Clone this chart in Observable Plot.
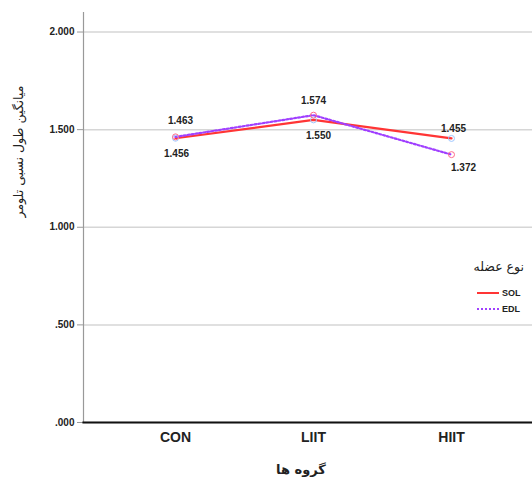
<!DOCTYPE html>
<html>
<head>
<meta charset="utf-8">
<script src="https://cdn.jsdelivr.net/npm/d3@7"></script>
<script src="https://cdn.jsdelivr.net/npm/@observablehq/plot@0.6"></script>
<style>
  body { margin: 0; background: #fff; }
  #wrap { position: relative; width: 532px; height: 486px; font-family: "Liberation Sans", Arial, sans-serif; }
  #legend { position: absolute; left: 440px; top: 259px; width: 84px; color: #222; }
  #legend .title { font-family: "DejaVu Sans", sans-serif; font-size: 12.5px; text-align: right; direction: rtl; height: 26px; }
  #legend .row { display: flex; align-items: center; justify-content: flex-end; font-size: 9px; font-weight: bold; height: 16px; }
  #legend svg { margin-right: 2px; }
</style>
</head>
<body>
<div id="wrap"></div>
<script>
const groups = ["CON", "LIIT", "HIIT"];
const seriesNames = ["SOL", "EDL"];
const solValues = [1.456, 1.550, 1.455];
const edlValues = [1.463, 1.574, 1.372];
const yTicks = [0, 0.5, 1, 1.5, 2];
const yTitle = "میانگین طول نسبی تلومر";
const xTitle = "گروه ها";
const legendTitle = "نوع عضله";

const colors = {SOL: "#ff3535", EDL: "#a040ff"};
const data = [];
groups.forEach((g, i) => {
  data.push({group: g, series: "SOL", value: solValues[i]});
  data.push({group: g, series: "EDL", value: edlValues[i]});
});
// label offsets (layout only)
const off = {
  "CON|EDL": [5, -16], "CON|SOL": [1, 16],
  "LIIT|EDL": [0, -14], "LIIT|SOL": [5, 16],
  "HIIT|SOL": [2, -10], "HIIT|EDL": [12, 13]
};
const fmt = d => d3.format(".3f")(d).replace(/^0\./, ".");

const labelMarks = data.map(d => Plot.text([d], {
  x: "group", y: "value", text: d => d3.format(".3f")(d.value),
  dx: off[d.group + "|" + d.series][0], dy: off[d.group + "|" + d.series][1],
  fontSize: 10, fontWeight: "bold", fill: "#222"
}));

const chart = Plot.plot({
  width: 532, height: 486,
  marginLeft: 83, marginRight: 0, marginTop: 12, marginBottom: 64,
  style: {fontFamily: "Liberation Sans, Arial, sans-serif", color: "#222", background: "#fff"},
  x: {type: "point", domain: groups, range: [175, 451], padding: 0},
  y: {domain: [0, 2.1], ticks: yTicks},
  marks: [
    Plot.gridY(yTicks, {stroke: "#d6d6d6", strokeOpacity: 1, strokeWidth: 1.5}),
    Plot.axisY(yTicks, {tickFormat: fmt, fontSize: 10, fontWeight: "bold", tickSize: 6, stroke: "#999", label: null}),
    Plot.axisX({tickSize: 0, fontSize: 14, fontWeight: "bold", tickPadding: 10, label: null}),
    Plot.frame({anchor: "left", stroke: "#999", strokeWidth: 1.2}),
    Plot.frame({anchor: "bottom", stroke: "#111", strokeWidth: 2.2}),
    Plot.line(data.filter(d => d.series === "SOL"), {x: "group", y: "value", stroke: colors.SOL, strokeWidth: 2.2}),
    Plot.line(data.filter(d => d.series === "EDL"), {x: "group", y: "value", stroke: colors.EDL, strokeWidth: 2.2, strokeDasharray: "2,2"}),
    Plot.dot(data, {x: "group", y: "value", r: 3, stroke: d => d.series === "SOL" ? "#9fc7ff" : "#ff6a8a", fill: "none", strokeWidth: 1}),
    ...labelMarks,
    Plot.text([yTitle], {frameAnchor: "left", dx: -65, rotate: -90, fontSize: 12.5, fontFamily: "DejaVu Sans, sans-serif", fill: "#222"}),
    Plot.text([xTitle], {frameAnchor: "bottom", dy: 51, dx: -7, fontSize: 13, fontFamily: "DejaVu Sans, sans-serif", fill: "#222", fontWeight: "bold"})
  ]
});
document.getElementById("wrap").appendChild(chart);

const leg = document.createElement("div");
leg.id = "legend";
leg.innerHTML = `<div class="title">${legendTitle}</div>` + seriesNames.map(s =>
  `<div class="row"><svg width="24" height="6"><line x1="1" y1="3" x2="23" y2="3" stroke="${colors[s]}" stroke-width="2" ${s === "EDL" ? 'stroke-dasharray="2,2"' : ''}/></svg><span style="width:22px">${s}</span></div>`
).join("");
document.getElementById("wrap").appendChild(leg);
</script>
</body>
</html>
